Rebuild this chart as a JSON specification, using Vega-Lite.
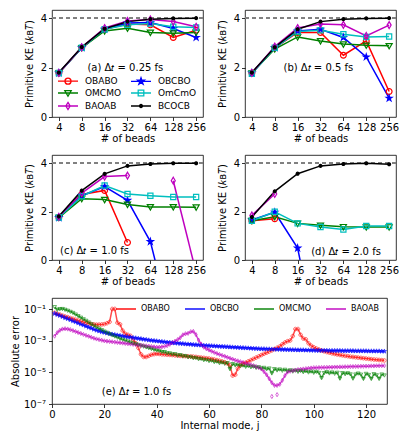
{
"$schema":"https://vega.github.io/schema/vega-lite/v6.json",
"padding":{"left":10,"top":9,"right":2,"bottom":2},
"background":"white",
"config":{
 "font":"DejaVu Sans",
 "view":{"stroke":"black","strokeWidth":0.8},
 "axis":{"grid":false,"domain":false,"tickColor":"black","tickSize":3.5,"tickWidth":0.8,"labelColor":"black","labelFontSize":10,"labelPadding":2,"titleFontSize":10,"titleFontWeight":"normal","titleColor":"black","labelFlush":false,"labelOverlap":false},
 "axisX":{"titlePadding":1},
 "axisY":{"titlePadding":6},
 "legend":{"labelColor":"black","title":null},
 "text":{"color":"black"}
},
"datasets":{
"keys":[{"k":"OBABO"},{"k":"OBCBO"},{"k":"OMCMO"},{"k":"OmCmO"},{"k":"BAOAB"},{"k":"BCOCB"}],
"a":[
{"n":4,"s":"OBABO","v":1.78},{"n":8,"s":"OBABO","v":2.80},{"n":16,"s":"OBABO","v":3.55},{"n":32,"s":"OBABO","v":3.76},{"n":64,"s":"OBABO","v":3.73},{"n":128,"s":"OBABO","v":3.22},{"n":256,"s":"OBABO","v":3.51},
{"n":4,"s":"OBCBO","v":1.78},{"n":8,"s":"OBCBO","v":2.80},{"n":16,"s":"OBCBO","v":3.55},{"n":32,"s":"OBCBO","v":3.80},{"n":64,"s":"OBCBO","v":3.82},{"n":128,"s":"OBCBO","v":3.58},{"n":256,"s":"OBCBO","v":3.22},
{"n":4,"s":"OMCMO","v":1.78},{"n":8,"s":"OMCMO","v":2.80},{"n":16,"s":"OMCMO","v":3.48},{"n":32,"s":"OMCMO","v":3.59},{"n":64,"s":"OMCMO","v":3.42},{"n":128,"s":"OMCMO","v":3.39},{"n":256,"s":"OMCMO","v":3.42},
{"n":4,"s":"OmCmO","v":1.78},{"n":8,"s":"OmCmO","v":2.80},{"n":16,"s":"OmCmO","v":3.55},{"n":32,"s":"OmCmO","v":3.73},{"n":64,"s":"OmCmO","v":3.78},{"n":128,"s":"OmCmO","v":3.65},{"n":256,"s":"OmCmO","v":3.62},
{"n":4,"s":"BAOAB","v":1.78},{"n":8,"s":"BAOAB","v":2.82},{"n":16,"s":"BAOAB","v":3.60},{"n":32,"s":"BAOAB","v":3.89},{"n":64,"s":"BAOAB","v":3.95},{"n":128,"s":"BAOAB","v":3.86},{"n":256,"s":"BAOAB","v":3.65},
{"n":4,"s":"BCOCB","v":1.80},{"n":8,"s":"BCOCB","v":2.83},{"n":16,"s":"BCOCB","v":3.57},{"n":32,"s":"BCOCB","v":3.86},{"n":64,"s":"BCOCB","v":3.96},{"n":128,"s":"BCOCB","v":3.99},{"n":256,"s":"BCOCB","v":4.00}
],
"b":[
{"n":4,"s":"OBABO","v":1.78},{"n":8,"s":"OBABO","v":2.80},{"n":16,"s":"OBABO","v":3.42},{"n":32,"s":"OBABO","v":3.42},{"n":64,"s":"OBABO","v":2.50},{"n":128,"s":"OBABO","v":3.08},{"n":256,"s":"OBABO","v":1.03},
{"n":4,"s":"OBCBO","v":1.78},{"n":8,"s":"OBCBO","v":2.80},{"n":16,"s":"OBCBO","v":3.48},{"n":32,"s":"OBCBO","v":3.55},{"n":64,"s":"OBCBO","v":3.22},{"n":128,"s":"OBCBO","v":2.43},{"n":256,"s":"OBCBO","v":0.76},
{"n":4,"s":"OMCMO","v":1.78},{"n":8,"s":"OMCMO","v":2.75},{"n":16,"s":"OMCMO","v":3.24},{"n":32,"s":"OMCMO","v":3.08},{"n":64,"s":"OMCMO","v":2.95},{"n":128,"s":"OMCMO","v":2.90},{"n":256,"s":"OMCMO","v":2.88},
{"n":4,"s":"OmCmO","v":1.75},{"n":8,"s":"OmCmO","v":2.80},{"n":16,"s":"OmCmO","v":3.46},{"n":32,"s":"OmCmO","v":3.51},{"n":64,"s":"OmCmO","v":3.35},{"n":128,"s":"OmCmO","v":3.24},{"n":256,"s":"OmCmO","v":3.26},
{"n":4,"s":"BAOAB","v":1.78},{"n":8,"s":"BAOAB","v":2.85},{"n":16,"s":"BAOAB","v":3.60},{"n":32,"s":"BAOAB","v":3.76},{"n":64,"s":"BAOAB","v":3.73},{"n":128,"s":"BAOAB","v":3.28},{"n":256,"s":"BAOAB","v":3.72},
{"n":4,"s":"BCOCB","v":1.80},{"n":8,"s":"BCOCB","v":2.82},{"n":16,"s":"BCOCB","v":3.55},{"n":32,"s":"BCOCB","v":3.86},{"n":64,"s":"BCOCB","v":3.96},{"n":128,"s":"BCOCB","v":3.99},{"n":256,"s":"BCOCB","v":4.00}
],
"c":[
{"n":4,"s":"OBABO","v":1.75},{"n":8,"s":"OBABO","v":2.70},{"n":16,"s":"OBABO","v":2.87},{"n":32,"s":"OBABO","v":0.72},
{"n":4,"s":"OBCBO","v":1.75},{"n":8,"s":"OBCBO","v":2.65},{"n":16,"s":"OBCBO","v":3.03},{"n":32,"s":"OBCBO","v":2.46},{"n":64,"s":"OBCBO","v":0.76},{"n":128,"s":"OBCBO","v":-3.0},
{"n":4,"s":"OMCMO","v":1.75},{"n":8,"s":"OMCMO","v":2.53},{"n":16,"s":"OMCMO","v":2.49},{"n":32,"s":"OMCMO","v":2.29},{"n":64,"s":"OMCMO","v":2.19},{"n":128,"s":"OMCMO","v":2.19},{"n":256,"s":"OMCMO","v":2.18},
{"n":4,"s":"OmCmO","v":1.75},{"n":8,"s":"OmCmO","v":2.63},{"n":16,"s":"OmCmO","v":3.07},{"n":32,"s":"OmCmO","v":2.72},{"n":64,"s":"OmCmO","v":2.65},{"n":128,"s":"OmCmO","v":2.60},{"n":256,"s":"OmCmO","v":2.60},
{"n":4,"s":"BAOAB","v":1.78,"seg":1},{"n":8,"s":"BAOAB","v":2.76,"seg":1},{"n":16,"s":"BAOAB","v":3.44,"seg":1},{"n":32,"s":"BAOAB","v":3.48,"seg":1},{"n":128,"s":"BAOAB","v":3.27,"seg":2},{"n":256,"s":"BAOAB","v":-0.52,"seg":2},
{"n":4,"s":"BCOCB","v":1.80},{"n":8,"s":"BCOCB","v":2.86},{"n":16,"s":"BCOCB","v":3.55},{"n":32,"s":"BCOCB","v":3.88},{"n":64,"s":"BCOCB","v":3.96},{"n":128,"s":"BCOCB","v":3.99},{"n":256,"s":"BCOCB","v":3.99}
],
"d":[
{"n":4,"s":"OBABO","v":1.62},{"n":8,"s":"OBABO","v":1.70},
{"n":4,"s":"OBCBO","v":1.65},{"n":8,"s":"OBCBO","v":1.97},{"n":16,"s":"OBCBO","v":0.49},{"n":32,"s":"OBCBO","v":-4.1},
{"n":4,"s":"OMCMO","v":1.62},{"n":8,"s":"OMCMO","v":1.78},{"n":16,"s":"OMCMO","v":1.51},{"n":32,"s":"OMCMO","v":1.43},{"n":64,"s":"OMCMO","v":1.37},{"n":128,"s":"OMCMO","v":1.36},{"n":256,"s":"OMCMO","v":1.36},
{"n":4,"s":"OmCmO","v":1.62},{"n":8,"s":"OmCmO","v":1.99},{"n":16,"s":"OmCmO","v":1.51},{"n":32,"s":"OmCmO","v":1.36},{"n":64,"s":"OmCmO","v":1.26},{"n":128,"s":"OmCmO","v":1.40},{"n":256,"s":"OmCmO","v":1.40},
{"n":4,"s":"BAOAB","v":1.84},{"n":8,"s":"BAOAB","v":2.72},
{"n":4,"s":"BCOCB","v":1.77},{"n":8,"s":"BCOCB","v":2.83},{"n":16,"s":"BCOCB","v":3.56},{"n":32,"s":"BCOCB","v":3.88},{"n":64,"s":"BCOCB","v":3.96},{"n":128,"s":"BCOCB","v":3.99},{"n":256,"s":"BCOCB","v":3.95}
],
"e":[
{"j":1,"OBABO":6.0e-2,"OBCBO":5.37e-2,"OMCMO":1.41e-1,"BAOAB":2.0e-3},
{"j":2,"OBABO":5.2e-2,"OBCBO":4.57e-2,"OMCMO":9.55e-2,"BAOAB":3.31e-3},
{"j":3,"OBABO":4.6e-2,"OBCBO":3.98e-2,"OMCMO":1.05e-1,"BAOAB":4.68e-3},
{"j":4,"OBABO":4.0e-2,"OBCBO":3.39e-2,"OMCMO":1.07e-1,"BAOAB":5.62e-3},
{"j":5,"OBABO":3.5e-2,"OBCBO":2.88e-2,"OMCMO":9.55e-2,"BAOAB":5.89e-3},
{"j":6,"OBABO":3.2e-2,"OBCBO":2.51e-2,"OMCMO":8.32e-2,"BAOAB":5.62e-3},
{"j":7,"OBABO":2.8e-2,"OBCBO":2.14e-2,"OMCMO":7.08e-2,"BAOAB":5.13e-3},
{"j":8,"OBABO":2.5e-2,"OBCBO":1.82e-2,"OMCMO":6.03e-2,"BAOAB":4.47e-3},
{"j":9,"OBABO":2.2e-2,"OBCBO":1.58e-2,"OMCMO":4.79e-2,"BAOAB":3.89e-3},
{"j":10,"OBABO":1.95e-2,"OBCBO":1.35e-2,"OMCMO":3.80e-2,"BAOAB":3.39e-3},
{"j":11,"OBABO":1.74e-2,"OBCBO":1.15e-2,"OMCMO":3.02e-2,"BAOAB":2.95e-3},
{"j":12,"OBABO":1.55e-2,"OBCBO":1.0e-2,"OMCMO":2.40e-2,"BAOAB":2.57e-3},
{"j":13,"OBABO":1.38e-2,"OBCBO":8.5e-3,"OMCMO":1.91e-2,"BAOAB":2.24e-3},
{"j":14,"OBABO":1.26e-2,"OBCBO":7.24e-3,"OMCMO":1.51e-2,"BAOAB":1.95e-3},
{"j":15,"OBABO":1.17e-2,"OBCBO":6.31e-3,"OMCMO":1.17e-2,"BAOAB":1.70e-3},
{"j":16,"OBABO":1.10e-2,"OBCBO":5.37e-3,"OMCMO":9.33e-3,"BAOAB":1.48e-3},
{"j":17,"OBABO":1.07e-2,"OBCBO":4.68e-3,"OMCMO":7.41e-3,"BAOAB":1.32e-3},
{"j":18,"OBABO":1.07e-2,"OBCBO":4.17e-3,"OMCMO":6.03e-3,"BAOAB":1.20e-3},
{"j":19,"OBABO":1.10e-2,"OBCBO":3.72e-3,"OMCMO":4.90e-3,"BAOAB":1.10e-3},
{"j":20,"OBABO":1.15e-2,"OBCBO":3.39e-3,"OMCMO":3.98e-3,"BAOAB":1.0e-3},
{"j":21,"OBABO":1.32e-2,"OBCBO":3.09e-3,"OMCMO":3.31e-3,"BAOAB":9.55e-4},
{"j":22,"OBABO":1.58e-2,"OBCBO":2.82e-3,"OMCMO":2.75e-3,"BAOAB":9.12e-4},
{"j":23,"OBABO":1.05e-1,"OBCBO":2.63e-3,"OMCMO":2.29e-3,"BAOAB":8.71e-4},
{"j":24,"OBABO":1.05e-1,"OBCBO":2.45e-3,"OMCMO":1.95e-3,"BAOAB":8.32e-4},
{"j":25,"OBABO":1.41e-2,"OBCBO":2.29e-3,"OMCMO":1.66e-3,"BAOAB":7.94e-4},
{"j":26,"OBABO":1.12e-2,"OBCBO":2.14e-3,"OMCMO":1.41e-3,"BAOAB":7.59e-4},
{"j":27,"OBABO":4.47e-3,"OBCBO":2.0e-3,"OMCMO":1.23e-3,"BAOAB":7.24e-4},
{"j":28,"OBABO":2.82e-3,"OBCBO":1.91e-3,"OMCMO":1.07e-3,"BAOAB":6.92e-4},
{"j":29,"OBABO":2.40e-3,"OBCBO":1.78e-3,"OMCMO":9.33e-4,"BAOAB":6.61e-4},
{"j":30,"OBABO":2.09e-3,"OBCBO":1.70e-3,"OMCMO":8.13e-4,"BAOAB":6.31e-4},
{"j":31,"OBABO":1.20e-3,"OBCBO":1.58e-3,"OMCMO":7.08e-4,"BAOAB":6.03e-4},
{"j":32,"OBABO":7.08e-4,"OBCBO":1.51e-3,"OMCMO":6.31e-4,"BAOAB":5.75e-4},
{"j":33,"OBABO":3.55e-4,"OBCBO":1.41e-3,"OMCMO":5.62e-4,"BAOAB":5.50e-4},
{"j":34,"OBABO":1.41e-4,"OBCBO":1.35e-3,"OMCMO":5.01e-4,"BAOAB":5.25e-4},
{"j":35,"OBABO":9.55e-5,"OBCBO":1.26e-3,"OMCMO":4.47e-4,"BAOAB":5.01e-4},
{"j":36,"OBABO":9.55e-5,"OBCBO":1.20e-3,"OMCMO":3.98e-4,"BAOAB":4.79e-4},
{"j":37,"OBABO":1.12e-4,"OBCBO":1.12e-3,"OMCMO":3.55e-4,"BAOAB":4.57e-4},
{"j":38,"OBABO":1.32e-4,"OBCBO":1.07e-3,"OMCMO":3.16e-4,"BAOAB":4.37e-4},
{"j":39,"OBABO":1.45e-4,"OBCBO":1.02e-3,"OMCMO":2.82e-4,"BAOAB":4.17e-4},
{"j":40,"OBABO":1.51e-4,"OBCBO":9.77e-4,"OMCMO":2.51e-4,"BAOAB":3.98e-4},
{"j":41,"OBABO":1.48e-4,"OBCBO":9.33e-4,"OMCMO":2.40e-4,"BAOAB":3.98e-4},
{"j":42,"OBABO":1.41e-4,"OBCBO":8.91e-4,"OMCMO":2.0e-4,"BAOAB":4.17e-4},
{"j":43,"OBABO":1.38e-4,"OBCBO":8.51e-4,"OMCMO":2.0e-4,"BAOAB":4.47e-4},
{"j":44,"OBABO":1.32e-4,"OBCBO":8.13e-4,"OMCMO":1.66e-4,"BAOAB":5.01e-4},
{"j":45,"OBABO":1.29e-4,"OBCBO":7.94e-4,"OMCMO":1.66e-4,"BAOAB":6.03e-4},
{"j":46,"OBABO":1.26e-4,"OBCBO":7.59e-4,"OMCMO":1.41e-4,"BAOAB":7.59e-4},
{"j":47,"OBABO":1.20e-4,"OBCBO":7.24e-4,"OMCMO":1.48e-4,"BAOAB":9.55e-4},
{"j":48,"OBABO":1.17e-4,"OBCBO":7.08e-4,"OMCMO":1.20e-4,"BAOAB":1.20e-3},
{"j":49,"OBABO":1.12e-4,"OBCBO":6.76e-4,"OMCMO":1.29e-4,"BAOAB":1.58e-3},
{"j":50,"OBABO":1.10e-4,"OBCBO":6.61e-4,"OMCMO":1.07e-4,"BAOAB":2.40e-3},
{"j":51,"OBABO":1.07e-4,"OBCBO":6.31e-4,"OMCMO":1.12e-4,"BAOAB":2.82e-3},
{"j":52,"OBABO":1.05e-4,"OBCBO":6.17e-4,"OMCMO":9.33e-5,"BAOAB":3.02e-3},
{"j":53,"OBABO":1.02e-4,"OBCBO":6.03e-4,"OMCMO":9.77e-5,"BAOAB":3.80e-3},
{"j":54,"OBABO":1.0e-4,"OBCBO":5.75e-4,"OMCMO":8.13e-5,"BAOAB":3.98e-3},
{"j":55,"OBABO":9.55e-5,"OBCBO":5.62e-4,"OMCMO":8.51e-5,"BAOAB":2.51e-3},
{"j":56,"OBABO":9.12e-5,"OBCBO":5.50e-4,"OMCMO":7.08e-5,"BAOAB":1.12e-3},
{"j":57,"OBABO":8.71e-5,"OBCBO":5.25e-4,"OMCMO":7.41e-5,"BAOAB":6.31e-4},
{"j":58,"OBABO":8.32e-5,"OBCBO":5.13e-4,"OMCMO":6.17e-5,"BAOAB":3.98e-4},
{"j":59,"OBABO":7.94e-5,"OBCBO":5.01e-4,"OMCMO":6.46e-5,"BAOAB":3.16e-4},
{"j":60,"OBABO":7.59e-5,"OBCBO":4.90e-4,"OMCMO":5.37e-5,"BAOAB":2.63e-4},
{"j":61,"OBABO":7.08e-5,"OBCBO":4.79e-4,"OMCMO":5.75e-5,"BAOAB":2.19e-4},
{"j":62,"OBABO":6.61e-5,"OBCBO":4.68e-4,"OMCMO":4.68e-5,"BAOAB":1.86e-4},
{"j":63,"OBABO":6.03e-5,"OBCBO":4.57e-4,"OMCMO":5.01e-5,"BAOAB":1.58e-4},
{"j":64,"OBABO":5.50e-5,"OBCBO":4.47e-4,"OMCMO":3.98e-5,"BAOAB":1.38e-4},
{"j":65,"OBABO":5.01e-5,"OBCBO":4.37e-4,"OMCMO":4.37e-5,"BAOAB":1.20e-4},
{"j":66,"OBABO":4.47e-5,"OBCBO":4.27e-4,"OMCMO":3.63e-5,"BAOAB":1.05e-4},
{"j":67,"OBABO":3.80e-5,"OBCBO":4.17e-4,"OMCMO":3.98e-5,"BAOAB":9.12e-5},
{"j":68,"OBABO":2.82e-5,"OBCBO":4.07e-4,"OMCMO":1.66e-5,"BAOAB":7.94e-5},
{"j":69,"OBABO":6.31e-6,"OBCBO":3.98e-4,"OMCMO":3.47e-5,"BAOAB":6.92e-5},
{"j":70,"OBABO":7.08e-6,"OBCBO":3.89e-4,"OMCMO":2.88e-5,"BAOAB":6.03e-5},
{"j":71,"OBABO":1.78e-5,"OBCBO":3.80e-4,"OMCMO":3.16e-5,"BAOAB":5.37e-5},
{"j":72,"OBABO":2.82e-5,"OBCBO":3.72e-4,"OMCMO":2.63e-5,"BAOAB":4.79e-5},
{"j":73,"OBABO":3.55e-5,"OBCBO":3.63e-4,"OMCMO":2.82e-5,"BAOAB":4.27e-5},
{"j":74,"OBABO":4.17e-5,"OBCBO":3.55e-4,"OMCMO":2.34e-5,"BAOAB":3.80e-5},
{"j":75,"OBABO":5.01e-5,"OBCBO":3.47e-4,"OMCMO":2.63e-5,"BAOAB":3.39e-5},
{"j":76,"OBABO":6.03e-5,"OBCBO":3.39e-4,"OMCMO":2.19e-5,"BAOAB":3.02e-5},
{"j":77,"OBABO":7.24e-5,"OBCBO":3.31e-4,"OMCMO":2.40e-5,"BAOAB":2.69e-5},
{"j":78,"OBABO":8.71e-5,"OBCBO":3.24e-4,"OMCMO":2.0e-5,"BAOAB":2.34e-5},
{"j":79,"OBABO":1.05e-4,"OBCBO":3.16e-4,"OMCMO":2.19e-5,"BAOAB":2.0e-5},
{"j":80,"OBABO":1.26e-4,"OBCBO":3.09e-4,"OMCMO":1.82e-5,"BAOAB":1.66e-5},
{"j":81,"OBABO":1.51e-4,"OBCBO":3.09e-4,"OMCMO":2.0e-5,"BAOAB":1.12e-5},
{"j":82,"OBABO":1.78e-4,"OBCBO":3.02e-4,"OMCMO":1.62e-5,"BAOAB":7.08e-6},
{"j":83,"OBABO":2.09e-4,"OBCBO":3.02e-4,"OMCMO":1.82e-5,"BAOAB":3.98e-6},
{"j":84,"OBABO":2.51e-4,"OBCBO":2.95e-4,"OMCMO":8.91e-6,"BAOAB":2.24e-6},
{"j":85,"OBABO":3.02e-4,"OBCBO":2.95e-4,"OMCMO":1.66e-5,"BAOAB":1.51e-6},
{"j":86,"OBABO":3.63e-4,"OBCBO":2.88e-4,"OMCMO":1.38e-5,"BAOAB":1.51e-6},
{"j":87,"OBABO":4.47e-4,"OBCBO":2.88e-4,"OMCMO":1.58e-5,"BAOAB":1.78e-6},
{"j":88,"OBABO":6.03e-4,"OBCBO":2.82e-4,"OMCMO":1.32e-5,"BAOAB":3.16e-6},
{"j":89,"OBABO":7.94e-4,"OBCBO":2.82e-4,"OMCMO":1.51e-5,"BAOAB":6.31e-6},
{"j":90,"OBABO":9.55e-4,"OBCBO":2.75e-4,"OMCMO":1.23e-5,"BAOAB":1.05e-5},
{"j":91,"OBABO":1.05e-3,"OBCBO":2.75e-4,"OMCMO":1.41e-5,"BAOAB":1.20e-5},
{"j":92,"OBABO":2.0e-3,"OBCBO":2.69e-4,"OMCMO":1.17e-5,"BAOAB":1.32e-5},
{"j":93,"OBABO":5.62e-3,"OBCBO":2.69e-4,"OMCMO":1.35e-5,"BAOAB":1.41e-5},
{"j":94,"OBABO":5.62e-3,"OBCBO":2.63e-4,"OMCMO":1.12e-5,"BAOAB":1.51e-5},
{"j":95,"OBABO":2.40e-3,"OBCBO":2.63e-4,"OMCMO":1.29e-5,"BAOAB":1.58e-5},
{"j":96,"OBABO":1.41e-3,"OBCBO":2.63e-4,"OMCMO":1.07e-5,"BAOAB":1.66e-5},
{"j":97,"OBABO":1.26e-3,"OBCBO":2.57e-4,"OMCMO":1.23e-5,"BAOAB":1.74e-5},
{"j":98,"OBABO":7.08e-4,"OBCBO":2.57e-4,"OMCMO":1.02e-5,"BAOAB":1.82e-5},
{"j":99,"OBABO":5.01e-4,"OBCBO":2.51e-4,"OMCMO":1.17e-5,"BAOAB":1.91e-5},
{"j":100,"OBABO":3.98e-4,"OBCBO":2.51e-4,"OMCMO":9.77e-6,"BAOAB":2.0e-5},
{"j":101,"OBABO":3.31e-4,"OBCBO":2.45e-4,"OMCMO":1.12e-5,"BAOAB":2.0e-5},
{"j":102,"OBABO":2.82e-4,"OBCBO":2.45e-4,"OMCMO":9.55e-6,"BAOAB":2.04e-5},
{"j":103,"OBABO":2.45e-4,"OBCBO":2.45e-4,"OMCMO":4.47e-6,"BAOAB":2.04e-5},
{"j":104,"OBABO":2.19e-4,"OBCBO":2.45e-4,"OMCMO":9.33e-6,"BAOAB":2.09e-5},
{"j":105,"OBABO":1.95e-4,"OBCBO":2.45e-4,"OMCMO":1.07e-5,"BAOAB":2.09e-5},
{"j":106,"OBABO":1.78e-4,"OBCBO":2.40e-4,"OMCMO":8.91e-6,"BAOAB":2.14e-5},
{"j":107,"OBABO":1.62e-4,"OBCBO":2.40e-4,"OMCMO":1.02e-5,"BAOAB":2.14e-5},
{"j":108,"OBABO":1.48e-4,"OBCBO":2.40e-4,"OMCMO":8.51e-6,"BAOAB":2.19e-5},
{"j":109,"OBABO":1.38e-4,"OBCBO":2.40e-4,"OMCMO":9.77e-6,"BAOAB":2.19e-5},
{"j":110,"OBABO":1.29e-4,"OBCBO":2.40e-4,"OMCMO":4.17e-6,"BAOAB":2.24e-5},
{"j":111,"OBABO":1.20e-4,"OBCBO":2.34e-4,"OMCMO":9.33e-6,"BAOAB":2.24e-5},
{"j":112,"OBABO":1.12e-4,"OBCBO":2.34e-4,"OMCMO":7.94e-6,"BAOAB":2.29e-5},
{"j":113,"OBABO":1.07e-4,"OBCBO":2.34e-4,"OMCMO":9.12e-6,"BAOAB":2.29e-5},
{"j":114,"OBABO":1.0e-4,"OBCBO":2.34e-4,"OMCMO":7.76e-6,"BAOAB":2.34e-5},
{"j":115,"OBABO":9.55e-5,"OBCBO":2.34e-4,"OMCMO":4.17e-6,"BAOAB":2.34e-5},
{"j":116,"OBABO":9.12e-5,"OBCBO":2.29e-4,"OMCMO":7.59e-6,"BAOAB":2.40e-5},
{"j":117,"OBABO":8.71e-5,"OBCBO":2.29e-4,"OMCMO":8.71e-6,"BAOAB":2.40e-5},
{"j":118,"OBABO":8.32e-5,"OBCBO":2.29e-4,"OMCMO":7.41e-6,"BAOAB":2.45e-5},
{"j":119,"OBABO":7.94e-5,"OBCBO":2.29e-4,"OMCMO":3.98e-6,"BAOAB":2.45e-5},
{"j":120,"OBABO":7.59e-5,"OBCBO":2.29e-4,"OMCMO":8.32e-6,"BAOAB":2.51e-5},
{"j":121,"OBABO":7.24e-5,"OBCBO":2.24e-4,"OMCMO":7.08e-6,"BAOAB":2.51e-5},
{"j":122,"OBABO":6.92e-5,"OBCBO":2.24e-4,"OMCMO":3.98e-6,"BAOAB":2.57e-5},
{"j":123,"OBABO":6.61e-5,"OBCBO":2.24e-4,"OMCMO":7.94e-6,"BAOAB":2.57e-5},
{"j":124,"OBABO":6.46e-5,"OBCBO":2.24e-4,"OMCMO":6.76e-6,"BAOAB":2.63e-5},
{"j":125,"OBABO":6.17e-5,"OBCBO":2.24e-4,"OMCMO":3.98e-6,"BAOAB":2.63e-5},
{"j":126,"OBABO":6.03e-5,"OBCBO":2.19e-4,"OMCMO":7.59e-6,"BAOAB":2.69e-5},
{"j":127,"OBABO":5.75e-5,"OBCBO":2.19e-4,"OMCMO":6.61e-6,"BAOAB":2.69e-5}
],
"e2":[{"j":84,"v":3.0e-7},{"j":86,"v":3.9e-7}]
},
"concat":[
{"hconcat":[
 {"width":151,"height":107,"data":{"name":"a"},
  "resolve":{"scale":{"shape":"independent","stroke":"independent","fill":"independent"}},
  "layer":[
   {"mark":{"type":"rule","color":"#808080","strokeDash":[4,3],"strokeWidth":1},"encoding":{"y":{"datum":4,"type":"quantitative"}}},
   {"mark":{"type":"line","clip":true,"strokeWidth":1.5},"encoding":{
     "x":{"field":"n","type":"quantitative","scale":{"type":"log","base":2,"domain":[3.249,315.2],"nice":false},"axis":{"values":[4,8,16,32,64,128,256],"format":"d","title":"# of beads"}},
     "y":{"field":"v","type":"quantitative","scale":{"domain":[0,4.33],"nice":false,"zero":false},"axis":{"values":[0,1,2,3,4],"title":"Primitive KE (𝑘ʙ𝑇)"}},
     "color":{"field":"s","type":"nominal","scale":{"domain":["OBABO","OBCBO","OMCMO","OmCmO","BAOAB","BCOCB"],"range":["#ff0000","#0000ff","#008000","#00bfbf","#bf00bf","#000000"]},"legend":null}}},
   {"mark":{"type":"point","clip":true,"strokeWidth":1.2,"opacity":1,"size":42},"encoding":{
     "x":{"field":"n","type":"quantitative"},"y":{"field":"v","type":"quantitative"},
     "stroke":{"field":"s","type":"nominal","scale":{"domain":["OBABO","OBCBO","OMCMO","OmCmO","BAOAB","BCOCB"],"range":["#ff0000","#0000ff","#008000","#00bfbf","#bf00bf","#000000"]},"legend":null},
     "fill":{"field":"s","type":"nominal","scale":{"domain":["OBABO","OBCBO","OMCMO","OmCmO","BAOAB","BCOCB"],"range":["transparent","#0000ff","transparent","transparent","transparent","#000000"]},"legend":null},
     "shape":{"field":"s","type":"nominal","scale":{"domain":["OBABO","OBCBO","OMCMO","OmCmO","BAOAB","BCOCB"],"range":["M0.9,0A0.9,0.9 0 1,1 -0.9,0A0.9,0.9 0 1,1 0.9,0","M0,-0.95L0.213,-0.294L0.903,-0.294L0.345,0.112L0.559,0.769L0,0.363L-0.559,0.769L-0.345,0.112L-0.903,-0.294L-0.213,-0.294Z","M-0.95,-0.7L0.95,-0.7L0,0.95Z","M-0.8,-0.8H0.8V0.8H-0.8Z","M0,-1.05L0.62,0L0,1.05L-0.62,0Z","M0.45,0A0.45,0.45 0 1,1 -0.45,0A0.45,0.45 0 1,1 0.45,0"]},"legend":null}}},
   {"data":{"name":"keys"},"mark":{"type":"point","opacity":0,"strokeWidth":1.3},"encoding":{
     "shape":{"field":"k","type":"nominal","scale":{"domain":["OBABO","OBCBO","OMCMO","OmCmO","BAOAB","BCOCB"],"range":["M-2,0H2M0.6,0A0.6,0.6 0 1,1 -0.6,0A0.6,0.6 0 1,1 0.6,0","M-2,0H2M0,-0.7L0.157,-0.216L0.666,-0.216L0.254,0.083L0.412,0.566L0,0.267L-0.412,0.566L-0.254,0.083L-0.666,-0.216L-0.157,-0.216Z","M-2,0H2M-0.64,-0.48L0.64,-0.48L0,0.64Z","M-2,0H2M-0.56,-0.56H0.56V0.56H-0.56Z","M-2,0H2M0,-0.72L0.43,0L0,0.72L-0.43,0Z","M-2,0H2M0.3,0A0.3,0.3 0 1,1 -0.3,0A0.3,0.3 0 1,1 0.3,0"]},
      "legend":{"orient":"none","legendX":6,"legendY":65,"columns":2,"direction":"horizontal","title":null,"labelFontSize":9,"symbolSize":100,"symbolStrokeWidth":1.3,"symbolOpacity":1,"symbolOffset":4,"labelOffset":11,"columnPadding":7,"rowPadding":0,"padding":0}},
     "stroke":{"field":"k","type":"nominal","scale":{"domain":["OBABO","OBCBO","OMCMO","OmCmO","BAOAB","BCOCB"],"range":["#ff0000","#0000ff","#008000","#00bfbf","#bf00bf","#000000"]},
      "legend":{"orient":"none","legendX":6,"legendY":65,"columns":2,"direction":"horizontal","title":null,"labelFontSize":9,"symbolSize":100,"symbolStrokeWidth":1.3,"symbolOpacity":1,"symbolOffset":4,"labelOffset":11,"columnPadding":7,"rowPadding":0,"padding":0}},
     "fill":{"field":"k","type":"nominal","scale":{"domain":["OBABO","OBCBO","OMCMO","OmCmO","BAOAB","BCOCB"],"range":["transparent","#0000ff","transparent","transparent","transparent","#000000"]},
      "legend":{"orient":"none","legendX":6,"legendY":65,"columns":2,"direction":"horizontal","title":null,"labelFontSize":9,"symbolSize":100,"symbolStrokeWidth":1.3,"symbolOpacity":1,"symbolOffset":4,"labelOffset":11,"columnPadding":7,"rowPadding":0,"padding":0}}}},
   {"data":{"values":[{"n":30,"v":2.0,"t":"(a) Δ𝑡 = 0.25 fs"}]},"mark":{"type":"text","fontSize":10,"align":"center","baseline":"middle","color":"black"},"encoding":{"x":{"field":"n","type":"quantitative"},"y":{"field":"v","type":"quantitative"},"text":{"field":"t"}}}
  ]},
 {"width":151,"height":107,"data":{"name":"b"},
  "layer":[
   {"mark":{"type":"rule","color":"#808080","strokeDash":[4,3],"strokeWidth":1},"encoding":{"y":{"datum":4,"type":"quantitative"}}},
   {"mark":{"type":"line","clip":true,"strokeWidth":1.5},"encoding":{
     "x":{"field":"n","type":"quantitative","scale":{"type":"log","base":2,"domain":[3.249,315.2],"nice":false},"axis":{"values":[4,8,16,32,64,128,256],"format":"d","title":"# of beads"}},
     "y":{"field":"v","type":"quantitative","scale":{"domain":[0,4.33],"nice":false,"zero":false},"axis":{"values":[0,1,2,3,4],"title":"Primitive KE (𝑘ʙ𝑇)"}},
     "color":{"field":"s","type":"nominal","scale":{"domain":["OBABO","OBCBO","OMCMO","OmCmO","BAOAB","BCOCB"],"range":["#ff0000","#0000ff","#008000","#00bfbf","#bf00bf","#000000"]},"legend":null}}},
   {"mark":{"type":"point","clip":true,"strokeWidth":1.2,"opacity":1,"size":42},"encoding":{
     "x":{"field":"n","type":"quantitative"},"y":{"field":"v","type":"quantitative"},
     "stroke":{"field":"s","type":"nominal","scale":{"domain":["OBABO","OBCBO","OMCMO","OmCmO","BAOAB","BCOCB"],"range":["#ff0000","#0000ff","#008000","#00bfbf","#bf00bf","#000000"]},"legend":null},
     "fill":{"field":"s","type":"nominal","scale":{"domain":["OBABO","OBCBO","OMCMO","OmCmO","BAOAB","BCOCB"],"range":["transparent","#0000ff","transparent","transparent","transparent","#000000"]},"legend":null},
     "shape":{"field":"s","type":"nominal","scale":{"domain":["OBABO","OBCBO","OMCMO","OmCmO","BAOAB","BCOCB"],"range":["M0.9,0A0.9,0.9 0 1,1 -0.9,0A0.9,0.9 0 1,1 0.9,0","M0,-0.95L0.213,-0.294L0.903,-0.294L0.345,0.112L0.559,0.769L0,0.363L-0.559,0.769L-0.345,0.112L-0.903,-0.294L-0.213,-0.294Z","M-0.95,-0.7L0.95,-0.7L0,0.95Z","M-0.8,-0.8H0.8V0.8H-0.8Z","M0,-1.05L0.62,0L0,1.05L-0.62,0Z","M0.45,0A0.45,0.45 0 1,1 -0.45,0A0.45,0.45 0 1,1 0.45,0"]},"legend":null}}},
   {"data":{"values":[{"n":30,"v":2.0,"t":"(b) Δ𝑡 = 0.5 fs"}]},"mark":{"type":"text","fontSize":10,"align":"center","baseline":"middle","color":"black"},"encoding":{"x":{"field":"n","type":"quantitative"},"y":{"field":"v","type":"quantitative"},"text":{"field":"t"}}}
  ]}
 ],"spacing":9,
 "resolve":{"scale":{"x":"independent","y":"independent","color":"independent","stroke":"independent","fill":"independent","shape":"independent"}}},
{"hconcat":[
 {"width":151,"height":105,"data":{"name":"c"},
  "layer":[
   {"mark":{"type":"rule","color":"#808080","strokeDash":[4,3],"strokeWidth":1},"encoding":{"y":{"datum":4,"type":"quantitative"}}},
   {"mark":{"type":"line","clip":true,"strokeWidth":1.5},"encoding":{
     "x":{"field":"n","type":"quantitative","scale":{"type":"log","base":2,"domain":[3.249,315.2],"nice":false},"axis":{"values":[4,8,16,32,64,128,256],"format":"d","title":"# of beads"}},
     "y":{"field":"v","type":"quantitative","scale":{"domain":[0,4.33],"nice":false,"zero":false},"axis":{"values":[0,1,2,3,4],"title":"Primitive KE (𝑘ʙ𝑇)"}},
     "detail":{"field":"seg","type":"nominal"},
     "color":{"field":"s","type":"nominal","scale":{"domain":["OBABO","OBCBO","OMCMO","OmCmO","BAOAB","BCOCB"],"range":["#ff0000","#0000ff","#008000","#00bfbf","#bf00bf","#000000"]},"legend":null}}},
   {"mark":{"type":"point","clip":true,"strokeWidth":1.2,"opacity":1,"size":42},"encoding":{
     "x":{"field":"n","type":"quantitative"},"y":{"field":"v","type":"quantitative"},
     "stroke":{"field":"s","type":"nominal","scale":{"domain":["OBABO","OBCBO","OMCMO","OmCmO","BAOAB","BCOCB"],"range":["#ff0000","#0000ff","#008000","#00bfbf","#bf00bf","#000000"]},"legend":null},
     "fill":{"field":"s","type":"nominal","scale":{"domain":["OBABO","OBCBO","OMCMO","OmCmO","BAOAB","BCOCB"],"range":["transparent","#0000ff","transparent","transparent","transparent","#000000"]},"legend":null},
     "shape":{"field":"s","type":"nominal","scale":{"domain":["OBABO","OBCBO","OMCMO","OmCmO","BAOAB","BCOCB"],"range":["M0.9,0A0.9,0.9 0 1,1 -0.9,0A0.9,0.9 0 1,1 0.9,0","M0,-0.95L0.213,-0.294L0.903,-0.294L0.345,0.112L0.559,0.769L0,0.363L-0.559,0.769L-0.345,0.112L-0.903,-0.294L-0.213,-0.294Z","M-0.95,-0.7L0.95,-0.7L0,0.95Z","M-0.8,-0.8H0.8V0.8H-0.8Z","M0,-1.05L0.62,0L0,1.05L-0.62,0Z","M0.45,0A0.45,0.45 0 1,1 -0.45,0A0.45,0.45 0 1,1 0.45,0"]},"legend":null}}},
   {"data":{"values":[{"n":4.15,"v":0.38,"t":"(c) Δ𝑡 = 1.0 fs"}]},"mark":{"type":"text","fontSize":10,"align":"left","baseline":"middle","color":"black"},"encoding":{"x":{"field":"n","type":"quantitative"},"y":{"field":"v","type":"quantitative"},"text":{"field":"t"}}}
  ]},
 {"width":151,"height":105,"data":{"name":"d"},
  "layer":[
   {"mark":{"type":"rule","color":"#808080","strokeDash":[4,3],"strokeWidth":1},"encoding":{"y":{"datum":4,"type":"quantitative"}}},
   {"mark":{"type":"line","clip":true,"strokeWidth":1.5},"encoding":{
     "x":{"field":"n","type":"quantitative","scale":{"type":"log","base":2,"domain":[3.249,315.2],"nice":false},"axis":{"values":[4,8,16,32,64,128,256],"format":"d","title":"# of beads"}},
     "y":{"field":"v","type":"quantitative","scale":{"domain":[0,4.33],"nice":false,"zero":false},"axis":{"values":[0,1,2,3,4],"title":"Primitive KE (𝑘ʙ𝑇)"}},
     "color":{"field":"s","type":"nominal","scale":{"domain":["OBABO","OBCBO","OMCMO","OmCmO","BAOAB","BCOCB"],"range":["#ff0000","#0000ff","#008000","#00bfbf","#bf00bf","#000000"]},"legend":null}}},
   {"mark":{"type":"point","clip":true,"strokeWidth":1.2,"opacity":1,"size":42},"encoding":{
     "x":{"field":"n","type":"quantitative"},"y":{"field":"v","type":"quantitative"},
     "stroke":{"field":"s","type":"nominal","scale":{"domain":["OBABO","OBCBO","OMCMO","OmCmO","BAOAB","BCOCB"],"range":["#ff0000","#0000ff","#008000","#00bfbf","#bf00bf","#000000"]},"legend":null},
     "fill":{"field":"s","type":"nominal","scale":{"domain":["OBABO","OBCBO","OMCMO","OmCmO","BAOAB","BCOCB"],"range":["transparent","#0000ff","transparent","transparent","transparent","#000000"]},"legend":null},
     "shape":{"field":"s","type":"nominal","scale":{"domain":["OBABO","OBCBO","OMCMO","OmCmO","BAOAB","BCOCB"],"range":["M0.9,0A0.9,0.9 0 1,1 -0.9,0A0.9,0.9 0 1,1 0.9,0","M0,-0.95L0.213,-0.294L0.903,-0.294L0.345,0.112L0.559,0.769L0,0.363L-0.559,0.769L-0.345,0.112L-0.903,-0.294L-0.213,-0.294Z","M-0.95,-0.7L0.95,-0.7L0,0.95Z","M-0.8,-0.8H0.8V0.8H-0.8Z","M0,-1.05L0.62,0L0,1.05L-0.62,0Z","M0.45,0A0.45,0.45 0 1,1 -0.45,0A0.45,0.45 0 1,1 0.45,0"]},"legend":null}}},
   {"data":{"values":[{"n":24.1,"v":0.35,"t":"(d) Δ𝑡 = 2.0 fs"}]},"mark":{"type":"text","fontSize":10,"align":"left","baseline":"middle","color":"black"},"encoding":{"x":{"field":"n","type":"quantitative"},"y":{"field":"v","type":"quantitative"},"text":{"field":"t"}}}
  ]}
 ],"spacing":9,
 "resolve":{"scale":{"x":"independent","y":"independent","color":"independent","stroke":"independent","fill":"independent","shape":"independent"}}},
{"width":335,"height":106,
 "resolve":{"scale":{"shape":"independent","stroke":"independent","fill":"independent"}},
 "layer":[
  {"mark":{"type":"rule","color":"black","strokeWidth":1.2},"encoding":{"x":{"datum":17,"type":"quantitative"}}},
  {"data":{"name":"e"},"transform":[{"fold":["OBABO","OBCBO","OMCMO","BAOAB"],"as":["s","v"]}],
   "mark":{"type":"line","clip":true,"strokeWidth":1.5,"opacity":0.7},"encoding":{
   "x":{"field":"j","type":"quantitative","scale":{"domain":[0,128],"nice":false,"zero":false},"axis":{"values":[0,20,40,60,80,100,120],"title":"Internal mode, j"}},
   "y":{"field":"v","type":"quantitative","scale":{"type":"log","domain":[1e-7,0.52],"nice":false},"axis":{"values":[1e-7,1e-5,1e-3,1e-1],"labelExpr":"round(log(datum.value)/LN10) == -7 ? '10⁻⁷' : round(log(datum.value)/LN10) == -5 ? '10⁻⁵' : round(log(datum.value)/LN10) == -3 ? '10⁻³' : '10⁻¹'","title":"Absolute error","labelPadding":3,"titlePadding":3}},
   "color":{"field":"s","type":"nominal","scale":{"domain":["OBABO","OBCBO","OMCMO","BAOAB"],"range":["#ff0000","#0000ff","#008000","#bf00bf"]},
     "legend":{"orient":"none","legendX":63,"legendY":0,"direction":"horizontal","columns":4,"title":null,"labelFontSize":8,"symbolType":"stroke","symbolSize":400,"symbolStrokeWidth":2,"labelOffset":4,"columnPadding":11,"padding":0}}}},
  {"data":{"name":"e"},"transform":[{"fold":["OBABO","OBCBO","OMCMO","BAOAB"],"as":["s","v"]}],
   "mark":{"type":"point","clip":true,"strokeWidth":0.8,"opacity":0.75,"size":16},"encoding":{
   "x":{"field":"j","type":"quantitative"},"y":{"field":"v","type":"quantitative"},
   "stroke":{"field":"s","type":"nominal","scale":{"domain":["OBABO","OBCBO","OMCMO","BAOAB"],"range":["#ff0000","#0000ff","#008000","#bf00bf"]},"legend":null},
   "fill":{"field":"s","type":"nominal","scale":{"domain":["OBABO","OBCBO","OMCMO","BAOAB"],"range":["transparent","#0000ff","transparent","transparent"]},"legend":null},
   "shape":{"field":"s","type":"nominal","scale":{"domain":["OBABO","OBCBO","OMCMO","BAOAB"],"range":["M0.9,0A0.9,0.9 0 1,1 -0.9,0A0.9,0.9 0 1,1 0.9,0","M0,-1.15L0.258,-0.355L1.094,-0.355L0.417,0.136L0.676,0.93L0,0.439L-0.676,0.93L-0.417,0.136L-1.094,-0.355L-0.258,-0.355Z","M-0.95,-0.7L0.95,-0.7L0,0.95Z","M0,-1.05L0.62,0L0,1.05L-0.62,0Z"]},"legend":null}}},
  {"data":{"name":"e2"},"mark":{"type":"point","shape":"M0,-1.05L0.62,0L0,1.05L-0.62,0Z","size":16,"color":"#bf00bf","filled":false,"strokeWidth":0.8,"opacity":0.75},"encoding":{"x":{"field":"j","type":"quantitative"},"y":{"field":"v","type":"quantitative"}}},
  {"data":{"values":[{"j":19,"v":6e-7,"t":"(e) Δ𝑡 = 1.0 fs"}]},"mark":{"type":"text","fontSize":10,"align":"left","baseline":"middle","color":"black"},"encoding":{"x":{"field":"j","type":"quantitative"},"y":{"field":"v","type":"quantitative"},"text":{"field":"t"}}}
 ]}
],
"columns":1,
"align":"none",
"spacing":10,
"resolve":{"scale":{"x":"independent","y":"independent","color":"independent","stroke":"independent","fill":"independent","shape":"independent"}}
}
